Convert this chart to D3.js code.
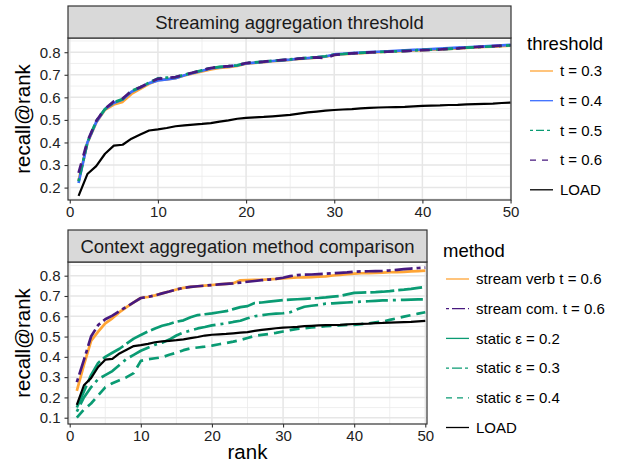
<!DOCTYPE html>
<html><head><meta charset="utf-8">
<script src="https://cdn.jsdelivr.net/npm/d3@7"></script>
<style>body{margin:0;background:#fff}svg{display:block}text{font-family:"Liberation Sans",Arial,sans-serif}</style>
</head><body><svg id="c" width="620" height="463"></svg>
<script>
const ranks = [1,2,3,4,5,6,7,8,9,10,11,12,13,14,15,16,17,18,19,20,21,22,23,24,25,26,27,28,29,30,31,32,33,34,35,36,37,38,39,40,41,42,43,44,45,46,47,48,49,50];

// Top panel: streaming aggregation threshold
const t03 = [0.230,0.398,0.488,0.545,0.568,0.580,0.615,0.638,0.660,0.676,0.680,0.685,0.697,0.706,0.715,0.724,0.730,0.734,0.739,0.749,0.753,0.756,0.760,0.763,0.766,0.770,0.773,0.776,0.780,0.788,0.791,0.794,0.796,0.798,0.800,0.802,0.804,0.806,0.808,0.809,0.811,0.813,0.815,0.817,0.819,0.821,0.823,0.825,0.827,0.829];
const t04 = [0.220,0.400,0.490,0.548,0.575,0.590,0.625,0.643,0.663,0.675,0.680,0.685,0.698,0.708,0.718,0.728,0.734,0.737,0.741,0.750,0.754,0.757,0.761,0.764,0.767,0.771,0.774,0.777,0.781,0.790,0.793,0.796,0.798,0.800,0.802,0.804,0.806,0.808,0.810,0.812,0.814,0.816,0.818,0.820,0.822,0.824,0.826,0.828,0.830,0.833];
const t05 = [0.228,0.400,0.495,0.548,0.578,0.592,0.628,0.645,0.665,0.684,0.687,0.690,0.700,0.710,0.720,0.730,0.735,0.738,0.742,0.752,0.755,0.758,0.762,0.765,0.768,0.772,0.775,0.778,0.782,0.790,0.792,0.795,0.797,0.799,0.801,0.802,0.804,0.806,0.808,0.810,0.811,0.813,0.815,0.817,0.820,0.822,0.824,0.826,0.828,0.830];
const t06 = [0.265,0.405,0.495,0.550,0.582,0.595,0.628,0.645,0.665,0.682,0.686,0.690,0.700,0.710,0.720,0.730,0.735,0.738,0.742,0.752,0.755,0.758,0.762,0.765,0.768,0.772,0.775,0.777,0.774,0.788,0.792,0.795,0.797,0.799,0.801,0.802,0.804,0.805,0.807,0.809,0.810,0.812,0.815,0.817,0.820,0.823,0.825,0.827,0.829,0.831];
const load = [0.163,0.260,0.295,0.350,0.386,0.390,0.417,0.435,0.453,0.458,0.464,0.472,0.476,0.479,0.482,0.486,0.492,0.498,0.505,0.509,0.511,0.513,0.516,0.519,0.522,0.528,0.533,0.537,0.541,0.544,0.546,0.548,0.551,0.553,0.555,0.556,0.557,0.558,0.560,0.562,0.563,0.564,0.566,0.567,0.569,0.570,0.571,0.572,0.575,0.577];

// Bottom panel: context aggregation method comparison
const streamVerb = [0.232,0.360,0.478,0.524,0.565,0.590,0.620,0.645,0.668,0.690,0.695,0.703,0.713,0.722,0.732,0.740,0.745,0.748,0.751,0.754,0.757,0.760,0.763,0.777,0.778,0.779,0.780,0.782,0.784,0.787,0.789,0.791,0.792,0.793,0.795,0.797,0.801,0.804,0.807,0.810,0.812,0.813,0.814,0.815,0.817,0.818,0.819,0.821,0.823,0.825];
const streamCom = [0.275,0.385,0.500,0.557,0.585,0.603,0.626,0.647,0.669,0.690,0.695,0.703,0.713,0.722,0.732,0.740,0.745,0.748,0.751,0.754,0.757,0.760,0.762,0.766,0.770,0.774,0.778,0.781,0.784,0.790,0.798,0.803,0.805,0.806,0.808,0.810,0.812,0.814,0.816,0.820,0.821,0.822,0.823,0.824,0.826,0.829,0.832,0.835,0.838,0.840];
const static02 = [0.150,0.230,0.310,0.370,0.400,0.420,0.440,0.465,0.490,0.508,0.525,0.540,0.553,0.562,0.573,0.580,0.595,0.606,0.610,0.614,0.620,0.625,0.635,0.645,0.650,0.665,0.668,0.672,0.676,0.680,0.682,0.684,0.686,0.688,0.690,0.693,0.697,0.700,0.708,0.715,0.717,0.718,0.719,0.721,0.724,0.728,0.731,0.735,0.740,0.745];
const static03 = [0.130,0.200,0.250,0.290,0.310,0.330,0.360,0.390,0.410,0.430,0.445,0.460,0.470,0.485,0.505,0.520,0.530,0.540,0.547,0.555,0.560,0.565,0.572,0.578,0.590,0.600,0.605,0.610,0.613,0.615,0.620,0.635,0.647,0.652,0.656,0.662,0.664,0.666,0.668,0.670,0.672,0.674,0.676,0.678,0.679,0.680,0.681,0.682,0.683,0.683];
const static04 = [0.100,0.140,0.170,0.210,0.250,0.270,0.285,0.300,0.320,0.380,0.388,0.393,0.398,0.410,0.420,0.433,0.442,0.446,0.450,0.455,0.462,0.468,0.475,0.483,0.493,0.503,0.508,0.513,0.518,0.525,0.532,0.538,0.541,0.545,0.548,0.551,0.553,0.555,0.557,0.558,0.561,0.565,0.570,0.574,0.582,0.590,0.598,0.606,0.613,0.620];

const xTicks = [0,10,20,30,40,50];
const yTicksTop = [0.2,0.3,0.4,0.5,0.6,0.7,0.8];
const yTicksBot = [0.1,0.2,0.3,0.4,0.5,0.6,0.7,0.8];

const topSeries = [
  {label:"t = 0.3", values:t03, color:"#FFA535", dash:null, ldash:null},
  {label:"t = 0.4", values:t04, color:"#3B6EFF", dash:null, ldash:null},
  {label:"t = 0.5", values:t05, color:"#0A9B73", dash:"3 4 10 4", ldash:"3 3 8 3"},
  {label:"t = 0.6", values:t06, color:"#47197F", dash:"10 8", ldash:"6 6"},
  {label:"LOAD", values:load, color:"#000000", dash:null, ldash:null, w:2.2}
];
const botSeries = [
  {label:"stream verb t = 0.6", values:streamVerb, color:"#FFA535", dash:null, ldash:null},
  {label:"stream com. t = 0.6", values:streamCom, color:"#47197F", dash:"4 4 18 4", ldash:"3 3 13 3"},
  {label:"static \u03B5 = 0.2", values:static02, color:"#0A9B73", dash:"24 4", ldash:null},
  {label:"static \u03B5 = 0.3", values:static03, color:"#0A9B73", dash:"3 5 22 5", ldash:"3 3 10 3"},
  {label:"static \u03B5 = 0.4", values:static04, color:"#0A9B73", dash:"10 6", ldash:"6 5"},
  {label:"LOAD", values:load, color:"#000000", dash:null, ldash:null, w:2.2}
];

const svg = d3.select("#c");

function panel(cfg){
  const {x0,x1,y0,y1,stripTop,title,xDom,yDom,yTicks,series,id} = cfg;
  const x = d3.scaleLinear().domain(xDom).range([x0,x1]);
  const y = d3.scaleLinear().domain(yDom).range([y1,y0]);
  const g = svg.append("g");
  g.append("rect").attr("x",x0).attr("y",y0).attr("width",x1-x0).attr("height",y1-y0).attr("fill","#fff");
  const xMinor = xTicks.slice(0,-1).map((d,i)=>(d+xTicks[i+1])/2);
  const yMinor = [yTicks[0]-0.05].concat(yTicks.map(d=>d+0.05));
  g.selectAll(null).data(xMinor).enter().append("line")
    .attr("x1",d=>x(d)).attr("x2",d=>x(d)).attr("y1",y0).attr("y2",y1)
    .attr("stroke","#EBEBEB").attr("stroke-width",0.8);
  g.selectAll(null).data(yMinor.filter(d=>y(d)>y0&&y(d)<y1)).enter().append("line")
    .attr("y1",d=>y(d)).attr("y2",d=>y(d)).attr("x1",x0).attr("x2",x1)
    .attr("stroke","#EBEBEB").attr("stroke-width",0.8);
  g.selectAll(null).data(xTicks).enter().append("line")
    .attr("x1",d=>x(d)).attr("x2",d=>x(d)).attr("y1",y0).attr("y2",y1)
    .attr("stroke","#E6E6E6").attr("stroke-width",1.5);
  g.selectAll(null).data(yTicks).enter().append("line")
    .attr("y1",d=>y(d)).attr("y2",d=>y(d)).attr("x1",x0).attr("x2",x1)
    .attr("stroke","#E6E6E6").attr("stroke-width",1.5);
  svg.append("clipPath").attr("id",id).append("rect").attr("x",x0).attr("y",y0).attr("width",x1-x0).attr("height",y1-y0);
  const lg = g.append("g").attr("clip-path",`url(#${id})`);
  const line = d3.line().x((d,i)=>x(ranks[i])).y(d=>y(d));
  series.forEach(s=>{
    lg.append("path").attr("d",line(s.values)).attr("fill","none")
      .attr("stroke",s.color).attr("stroke-width",s.w||2.7)
      .attr("stroke-dasharray",s.dash).attr("stroke-linejoin","round");
  });
  g.append("rect").attr("x",x0).attr("y",y0).attr("width",x1-x0).attr("height",y1-y0)
    .attr("fill","none").attr("stroke","#333").attr("stroke-width",1.2);
  g.append("rect").attr("x",x0).attr("y",stripTop).attr("width",x1-x0).attr("height",y0-stripTop)
    .attr("fill","#D9D9D9").attr("stroke","#333").attr("stroke-width",1.2);
  g.append("text").attr("x",(x0+x1)/2).attr("y",(stripTop+y0)/2+6.5).attr("text-anchor","middle")
    .attr("font-size",18.5).attr("fill","#1A1A1A").text(title);
  const ax = g.append("g").attr("transform",`translate(0,${y1})`)
    .call(d3.axisBottom(x).tickValues(xTicks).tickSize(3.5).tickPadding(3));
  const ay = g.append("g").attr("transform",`translate(${x0},0)`)
    .call(d3.axisLeft(y).tickValues(yTicks).tickSize(3.5).tickPadding(4).tickFormat(d3.format(".1f")));
  [ax,ay].forEach(a=>{
    a.select(".domain").remove();
    a.selectAll(".tick line").attr("stroke","#333").attr("stroke-width",1.1);
    a.selectAll(".tick text").attr("font-size",15).attr("fill","#222").attr("font-family","Liberation Sans, Arial, sans-serif");
  });
  g.append("text").attr("transform",`translate(30,${(y0+y1)/2}) rotate(-90)`).attr("text-anchor","middle")
    .attr("font-size",20.5).attr("fill","#000").text("recall@rank");
  return {x,y};
}

panel({id:"clipTop",x0:68,x1:511,y0:38,y1:200,stripTop:6,title:"Streaming aggregation threshold",
  xDom:[-0.2,50.05],yDom:[0.145,0.863],yTicks:yTicksTop,series:topSeries});
panel({id:"clipBot",x0:68,x1:427,y0:262,y1:424,stripTop:230,title:"Context aggregation method comparison",
  xDom:[-0.24,50.24],yDom:[0.069,0.8675],yTicks:yTicksBot,series:botSeries});

svg.append("text").attr("x",247.5).attr("y",459).attr("text-anchor","middle").attr("font-size",20.5).text("rank");

function legend(lx, titleY, firstY, title, series){
  const g = svg.append("g");
  g.append("text").attr("x",lx-3).attr("y",titleY+6.5).attr("font-size",18.5).text(title);
  series.forEach((s,i)=>{
    const yy = firstY + i*29.7;
    g.append("line").attr("x1",lx).attr("x2",lx+23).attr("y1",yy).attr("y2",yy)
      .attr("stroke",s.color).attr("stroke-width",1.3).attr("stroke-dasharray",s.ldash);
    g.append("text").attr("x",lx+30).attr("y",yy+5.3).attr("font-size",15).attr("fill","#000").text(s.label);
  });
}
legend(530, 43, 71, "threshold", topSeries);
legend(446, 250, 279, "method", botSeries);
</script></body></html>
